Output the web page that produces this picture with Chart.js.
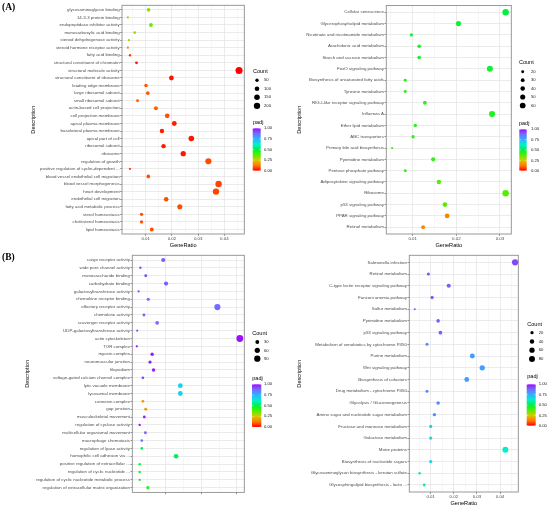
<!DOCTYPE html>
<html><head><meta charset="utf-8">
<script src="https://cdn.jsdelivr.net/npm/chart.js@4.4.1/dist/chart.umd.min.js"></script>
<style>
html,body{margin:0;padding:0;background:#fff;}
#wrap{position:relative;width:550px;height:507px;overflow:hidden;background:#fff;}
.pan{position:absolute;}
.tag{position:absolute;font-family:"Liberation Serif","Times New Roman",serif;font-weight:bold;font-size:9.5px;line-height:1;color:#000;}
</style></head><body>
<div id="wrap">
<div class="pan" style="left:0;top:0;width:290px;height:250px"><canvas id="cA1"></canvas></div>
<div class="pan" style="left:270px;top:0;width:280px;height:250px"><canvas id="cA2"></canvas></div>
<div class="pan" style="left:0;top:250px;width:290px;height:257px"><canvas id="cB1"></canvas></div>
<div class="pan" style="left:270px;top:250px;width:280px;height:257px"><canvas id="cB2"></canvas></div>
<div class="tag" style="left:2px;top:3px">(A)</div>
<div class="tag" style="left:2px;top:252.5px">(B)</div>
</div>
<script>
// ---------------- DATA ----------------
const aLeftTerms = ["glycosaminoglycan binding","14-3-3 protein binding","endopeptidase inhibitor activity","monocarboxylic acid binding","steroid dehydrogenase activity","steroid hormone receptor activity","fatty acid binding","structural constituent of chromatin","structural molecule activity","structural constituent of ribosome","leading edge membrane","large ribosomal subunit","small ribosomal subunit","actin-based cell projection","cell projection membrane","apical plasma membrane","basolateral plasma membrane","apical part of cell","ribosomal subunit","ribosome","regulation of growth","positive regulation of cyclin-dependent ...","blood vessel endothelial cell migration","blood vessel morphogenesis","heart development","endothelial cell migration","fatty acid metabolic process","sterol homeostasis","cholesterol homeostasis","lipid homeostasis"];
const aLeftRatio = [0.0111,0.0032,0.0120,0.0058,0.0036,0.0032,0.0040,0.0065,0.0456,0.0198,0.0101,0.0108,0.0069,0.0139,0.0182,0.0209,0.0162,0.0274,0.0168,0.0243,0.0339,0.0040,0.0110,0.0378,0.0368,0.0178,0.0230,0.0084,0.0084,0.0123];
const aLeftCount = [61,18,66,32,20,18,22,36,251,109,56,59,38,76,100,115,89,151,92,134,186,22,61,208,202,98,127,46,46,68];
const aLeftPadj = [0.32,0.30,0.35,0.30,0.30,0.14,0.06,0.03,0.00,0.02,0.09,0.09,0.10,0.10,0.08,0.03,0.03,0.02,0.03,0.02,0.08,0.08,0.08,0.07,0.07,0.08,0.08,0.08,0.08,0.08];
const aLeftXTicks = [0.01,0.02,0.03,0.04];
const aLeftCountBreaks = [50,100,150,200];

const aRightTerms = ["Cellular senescence","Glycerophospholipid metabolism","Nicotinate and nicotinamide metabolism","Arachidonic acid metabolism","Starch and sucrose metabolism","FoxO signaling pathway","Biosynthesis of unsaturated fatty acids","Tyrosine metabolism","RIG-I-like receptor signaling pathway","Influenza A","Ether lipid metabolism","ABC transporters","Primary bile acid biosynthesis","Pyrimidine metabolism","Pentose phosphate pathway","Adipocytokine signaling pathway","Ribosome","p53 signaling pathway","PPAR signaling pathway","Retinol metabolism"];
const aRightRatio = [0.0313,0.0205,0.0097,0.0115,0.0115,0.0277,0.0083,0.0083,0.0128,0.0282,0.0106,0.0101,0.0053,0.0147,0.0083,0.0160,0.0313,0.0174,0.0179,0.0124];
const aRightCount = [75,49,23,28,28,66,20,20,31,68,25,24,13,35,20,38,75,42,43,30];
const aRightPadj = [0.50,0.48,0.46,0.46,0.46,0.47,0.44,0.44,0.43,0.45,0.43,0.43,0.38,0.42,0.42,0.37,0.37,0.37,0.14,0.14];
const aRightXTicks = [0.01,0.02,0.03];
const aRightCountBreaks = [20,30,40,50,60];

const bLeftTerms = ["cargo receptor activity","wide pore channel activity","monosaccharide binding","carbohydrate binding","galactosyltransferase activity","chemokine receptor binding","olfactory receptor activity","chemokine activity","scavenger receptor activity","UDP-galactosyltransferase activity","actin cytoskeleton","TOR complex","myosin complex","neuromuscular junction","filopodium","voltage-gated calcium channel complex","lytic vacuole membrane","lysosomal membrane","connexin complex","gap junction","musculoskeletal movement","regulation of cyclase activity","multicellular organismal movement","macrophage chemotaxis","regulation of lyase activity","homophilic cell adhesion via ...","positive regulation of extracellular ...","regulation of cyclic nucleotide ...","regulation of cyclic nucleotide metabolic process","regulation of extracellular matrix organization"];
const bLeftRatio = [0.0093,0.0029,0.0044,0.0101,0.0024,0.0051,0.0245,0.0039,0.0076,0.0020,0.0308,0.0019,0.0062,0.0056,0.0066,0.0036,0.0141,0.0141,0.0036,0.0044,0.0040,0.0027,0.0043,0.0033,0.0033,0.0129,0.0027,0.0027,0.0027,0.0050];
const bLeftCount = [33,10,15,35,8,18,86,14,27,7,108,7,22,20,23,13,49,49,13,15,14,9,15,12,12,45,9,9,9,18];
const bLeftPadj = [0.90,0.90,0.92,0.90,0.90,0.88,0.88,0.90,0.88,0.90,1.00,1.00,0.98,0.98,0.98,0.92,0.68,0.68,0.18,0.18,0.97,0.97,0.88,0.86,0.52,0.52,0.47,0.47,0.47,0.45];
const bLeftXTicks = [0.01,0.02,0.03];
const bLeftCountBreaks = [30,60,90];

const bRightTerms = ["Salmonella infection","Retinol metabolism","C-type lectin receptor signaling pathway","Fanconi anemia pathway","Sulfur metabolism","Pyrimidine metabolism","p53 signaling pathway","Metabolism of xenobiotics by cytochrome P450","Purine metabolism","Wnt signaling pathway","Biosynthesis of cofactors","Drug metabolism - cytochrome P450","Glycolysis / Gluconeogenesis","Amino sugar and nucleotide sugar metabolism","Fructose and mannose metabolism","Galactose metabolism","Motor proteins","Biosynthesis of nucleotide sugars","Glycosaminoglycan biosynthesis - keratan sulfate","Glycosphingolipid biosynthesis - lacto ..."];
const bRightRatio = [0.0465,0.0090,0.0178,0.0106,0.0031,0.0132,0.0142,0.0084,0.0280,0.0323,0.0256,0.0084,0.0132,0.0116,0.0100,0.0100,0.0423,0.0100,0.0052,0.0072];
const bRightCount = [88,17,34,20,6,25,27,16,53,61,49,16,25,22,19,19,80,19,10,14];
const bRightPadj = [0.93,0.91,0.90,0.90,0.90,0.90,0.90,0.82,0.79,0.79,0.79,0.82,0.83,0.80,0.68,0.68,0.62,0.68,0.60,0.60];
const bRightXTicks = [0.01,0.02,0.03,0.04];
const bRightCountBreaks = [20,40,60,80];

const padjBreaks = [0,0.25,0.5,0.75,1];

// ---------------- STYLE ----------------
const FONT = '"Liberation Sans", Arial, Helvetica, sans-serif';
Chart.defaults.font.family = FONT;
const padjStops = [[0,'#ff0000'],[0.125,'#ff7a00'],[0.25,'#d8c800'],[0.375,'#50f000'],[0.5,'#00f040'],[0.625,'#00f0d0'],[0.75,'#30b0ff'],[0.875,'#7070ff'],[1,'#9a10ff']];
function hex(h){return [parseInt(h.slice(1,3),16),parseInt(h.slice(3,5),16),parseInt(h.slice(5,7),16)];}
function padjColor(p){
  p = Math.max(0, Math.min(1, p));
  for (let i = 1; i < padjStops.length; i++) {
    const [p1,c1] = padjStops[i-1], [p2,c2] = padjStops[i];
    if (p <= p2) {
      const t = (p-p1)/(p2-p1), a = hex(c1), b = hex(c2);
      return 'rgb(' + [0,1,2].map(k => Math.round(a[k]+(b[k]-a[k])*t)).join(',') + ')';
    }
  }
  return padjStops[padjStops.length-1][1];
}

const panelPlugin = {
  id: 'panelDeco',
  afterDatasetsDraw(chart) {
    const {ctx, chartArea: a} = chart;
    ctx.save();
    ctx.strokeStyle = '#8f8f8f'; ctx.lineWidth = 0.9;
    ctx.strokeRect(a.left, a.top, a.right - a.left, a.bottom - a.top);
    ctx.restore();
  },
  afterDraw(chart, args, o) {
    if (!o || !o.breaks) return;
    const c = chart.ctx;
    c.save();
    c.textBaseline = 'middle'; c.textAlign = 'left';
    c.fillStyle = '#000'; c.font = '5.5px ' + FONT;
    c.fillText('Count', o.titleX, o.countTitleY);
    o.breaks.forEach((b, i) => {
      const y = o.dotY0 + i*o.dotStep;
      c.fillStyle = '#000';
      c.beginPath(); c.arc(o.dotX, y, o.size(b), 0, Math.PI*2); c.fill();
      c.fillStyle = '#222'; c.font = '4.2px ' + FONT;
      c.fillText(String(b), o.labelX, y);
    });
    c.fillStyle = '#000'; c.font = '5.5px ' + FONT;
    c.fillText('padj', o.titleX, o.padjTitleY);
    const g = c.createLinearGradient(0, o.barBottom, 0, o.barTop);
    padjStops.forEach(([p, col]) => g.addColorStop(p, col));
    c.fillStyle = g;
    c.fillRect(o.barX, o.barTop, o.barW, o.barBottom - o.barTop);
    c.font = '4.2px ' + FONT;
    padjBreaks.forEach(p => {
      const y = o.barBottom - p*(o.barBottom - o.barTop);
      c.strokeStyle = '#fff'; c.lineWidth = 0.5;
      c.beginPath(); c.moveTo(o.barX, y); c.lineTo(o.barX + 1.5, y);
      c.moveTo(o.barX + o.barW - 1.5, y); c.lineTo(o.barX + o.barW, y); c.stroke();
      c.fillStyle = '#222';
      c.fillText(p.toFixed(2), o.labelX, y);
    });
    c.restore();
  }
};

function makePanel(id, P) {
  const n = P.terms.length;
  const majors = P.xTicks;
  const half = (majors[1] - majors[0]) / 2;
  const tickVals = [];
  for (let k = -4; k < 40; k++) {
    const v = +(majors[0] + k*half).toFixed(5);
    if (v >= P.xMin && v <= P.xMax) tickVals.push(v);
  }
  const isMajor = v => majors.some(m => Math.abs(m - v) < 1e-7);
  const tickFont = {family: FONT, size: 4.4};
  const titleFont = {family: FONT, size: 5.6};
  return new Chart(document.getElementById(id), {
    type: 'scatter',
    data: { datasets: [{
      data: P.terms.map((t, i) => ({x: P.ratio[i], y: i})),
      pointRadius: ctx => Math.max(0.6, P.size(P.count[ctx.dataIndex])),
      pointHoverRadius: ctx => Math.max(0.6, P.size(P.count[ctx.dataIndex])),
      pointBackgroundColor: ctx => padjColor(P.padj[ctx.dataIndex]),
      pointBorderWidth: 0,
      pointBorderColor: 'rgba(0,0,0,0)'
    }]},
    options: {
      responsive: true, maintainAspectRatio: false, animation: false, events: [],
      layout: { padding: { left: 0, top: P.area.top, right: P.W - P.area.right, bottom: 0 } },
      plugins: {
        legend: {display: false}, tooltip: {enabled: false},
        panelDeco: Object.assign({size: P.size}, P.legend)
      },
      scales: {
        x: {
          type: 'linear', min: P.xMin, max: P.xMax, bounds: 'data',
          afterBuildTicks: s => { s.ticks = tickVals.map(v => ({value: v})); },
          afterFit: s => { s.height = P.H - P.area.bottom; },
          grid: {
            color: ctx => isMajor(ctx.tick.value) ? '#e2e2e2' : '#ededed',
            lineWidth: ctx => isMajor(ctx.tick.value) ? 0.7 : 0.45,
            drawTicks: true, tickLength: 1.8, tickWidth: 0.6,
            tickColor: ctx => isMajor(ctx.tick.value) ? '#444' : 'rgba(0,0,0,0)'
          },
          border: {display: false},
          ticks: { display: P.showX, autoSkip: false, maxRotation: 0, padding: 0.2, color: '#4d4d4d', font: tickFont,
                   callback: v => isMajor(v) ? v.toFixed(2) : '' },
          title: { display: P.showX, text: 'GeneRatio', color: '#000', font: titleFont, padding: {top: 0, bottom: P.xTitlePad} }
        },
        y: {
          type: 'linear', reverse: true, min: -0.6, max: n - 0.4, bounds: 'data',
          afterBuildTicks: s => { s.ticks = P.terms.map((_, i) => ({value: i})); },
          afterFit: s => { s.width = P.area.left; },
          grid: { color: '#e2e2e2', lineWidth: 0.7, drawTicks: true, tickLength: 1.8, tickWidth: 0.6, tickColor: '#444' },
          border: {display: false},
          ticks: { autoSkip: false, padding: 0.6, color: '#4d4d4d', font: tickFont,
                   callback: v => P.terms[v] },
          title: { display: true, text: 'Description', color: '#000', font: titleFont, padding: {top: P.yTitlePad, bottom: 0} }
        }
      }
    },
    plugins: [panelPlugin]
  });
}

makePanel('cA1', {
  terms: aLeftTerms, ratio: aLeftRatio, count: aLeftCount, padj: aLeftPadj,
  xMin: 0.00096, xMax: 0.0476, xTicks: aLeftXTicks,
  W: 290, H: 250, area: {left: 122, right: 244.3, top: 5.3, bottom: 234},
  size: c => 0.21*Math.sqrt(c) + 0.2,
  showX: true, xTitlePad: 1.3, yTitlePad: 30.3,
  legend: {breaks: aLeftCountBreaks, titleX: 253, countTitleY: 71, dotX: 257, dotY0: 80.3, dotStep: 8.5, labelX: 264,
           padjTitleY: 122, barX: 252.7, barW: 8, barTop: 128.3, barBottom: 170.7}
});
makePanel('cA2', {
  terms: aRightTerms, ratio: aRightRatio, count: aRightCount, padj: aRightPadj,
  xMin: 0.00396, xMax: 0.0326, xTicks: aRightXTicks,
  W: 280, H: 250, area: {left: 116.3, right: 241.3, top: 5.5, bottom: 234},
  size: c => 0.42*Math.sqrt(c) - 0.4,
  showX: true, xTitlePad: 1.3, yTitlePad: 26.3,
  legend: {breaks: aRightCountBreaks, titleX: 249, countTitleY: 62, dotX: 252.7, dotY0: 71.7, dotStep: 8.45, labelX: 261,
           padjTitleY: 123.3, barX: 249.3, barW: 7.4, barTop: 129.3, barBottom: 170.7}
});
makePanel('cB1', {
  terms: bLeftTerms, ratio: bLeftRatio, count: bLeftCount, padj: bLeftPadj,
  xMin: 0.00063, xMax: 0.03205, xTicks: bLeftXTicks,
  W: 290, H: 257, area: {left: 132.3, right: 244.3, top: 5.3, bottom: 242.4},
  size: c => 0.3*Math.sqrt(c) + 0.3,
  showX: false, xTitlePad: 0, yTitlePad: 24.3,
  legend: {breaks: bLeftCountBreaks, titleX: 252.3, countTitleY: 83.3, dotX: 257.3, dotY0: 92, dotStep: 8.35, labelX: 264,
           padjTitleY: 128.7, barX: 252, barW: 9.3, barTop: 134.3, barBottom: 177}
});
makePanel('cB2', {
  terms: bRightTerms, ratio: bRightRatio, count: bRightCount, padj: bRightPadj,
  xMin: 0.00074, xMax: 0.0479, xTicks: bRightXTicks,
  W: 280, H: 257, area: {left: 139.3, right: 248.3, top: 5.3, bottom: 242},
  size: c => 0.3*Math.sqrt(c) + 0.3,
  showX: true, xTitlePad: 0.3, yTitlePad: 26.3,
  legend: {breaks: bRightCountBreaks, titleX: 257.3, countTitleY: 74, dotX: 262, dotY0: 82.7, dotStep: 8.75, labelX: 268.7,
           padjTitleY: 126, barX: 256.7, barW: 9, barTop: 134.3, barBottom: 175.7}
});
</script>
</body></html>
